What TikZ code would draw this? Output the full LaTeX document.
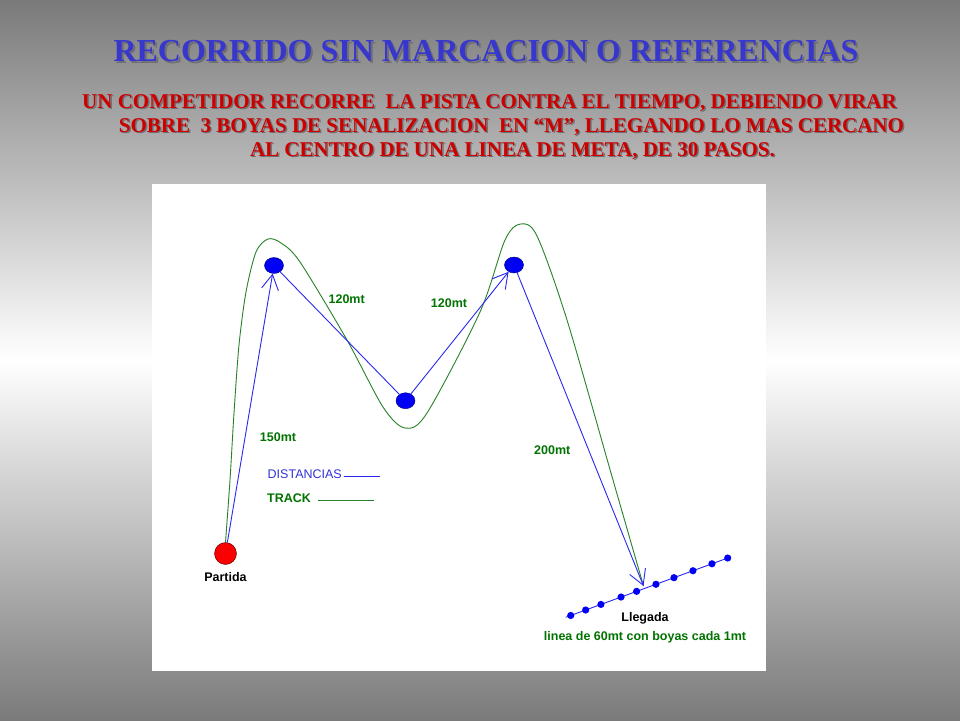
\documentclass[tikz,border=0pt]{standalone}
\usepackage{fontspec}
\setmainfont{Liberation Serif}
\setsansfont{Liberation Sans}
\usetikzlibrary{arrows.meta, shapes.geometric, calc}
\definecolor{fondoGris}{RGB}{122,122,122}
\definecolor{azulTitulo}{RGB}{55,55,205}
\definecolor{rojoTexto}{RGB}{205,0,0}
\definecolor{sombra}{RGB}{110,110,115}
\definecolor{azulLinea}{RGB}{40,40,240}
\definecolor{azulLeyenda}{RGB}{50,50,215}
\definecolor{boyaAzul}{RGB}{0,0,245}
\definecolor{boyaBorde}{RGB}{0,0,120}
\definecolor{boyaRoja}{RGB}{250,0,0}
\definecolor{verdeTrack}{RGB}{40,130,40}
\definecolor{verdeEtiq}{RGB}{0,115,0}
\tikzset{%
  >={Straight Barb[length=15pt,width=17pt]},
  % estilos de nodos y lineas
          boya/.style = {ellipse, draw=boyaBorde, fill=boyaAzul,
                         minimum width=19pt, minimum height=16pt,
                         inner sep=0pt},
   boyaPartida/.style = {circle, draw=black!70!red, fill=boyaRoja,
                         minimum size=22pt, inner sep=0pt},
     distancia/.style = {draw=azulLinea, line width=0.9pt},
         track/.style = {draw=verdeTrack, line width=0.9pt},
      etiqueta/.style = {font=\sffamily\bfseries\fontsize{12.5}{14}\selectfont,
                         text=verdeEtiq, inner sep=0pt},
        titulo/.style = {font=\bfseries\fontsize{32}{36}\selectfont,
                         inner sep=0pt, anchor=base},
     subtitulo/.style = {font=\bfseries\fontsize{21}{24}\selectfont,
                         inner sep=0pt, anchor=base},
}
\begin{document}
\begin{tikzpicture}[x=1pt, y=-1pt, node distance=24pt]
  \useasboundingbox (0,0) rectangle (960,720);
  \shade[top color=fondoGris, bottom color=fondoGris, middle color=white] (0,0) rectangle (960,720);
  \fill[white] (152,184) rectangle (766,671);

  % titulo y texto
  \node(tituloSombra)  [titulo, text=sombra]     at (488,63)   {RECORRIDO SIN MARCACION O REFERENCIAS};
  \node(titulo)        [titulo, text=azulTitulo] at (486,61)   {RECORRIDO SIN MARCACION O REFERENCIAS};
  \node(texto1Sombra)  [subtitulo, text=sombra]    at (491,109.5) {UN COMPETIDOR RECORRE\ \ LA PISTA CONTRA EL TIEMPO, DEBIENDO VIRAR};
  \node(texto1)        [subtitulo, text=rojoTexto] at (489.5,108) {UN COMPETIDOR RECORRE\ \ LA PISTA CONTRA EL TIEMPO, DEBIENDO VIRAR};
  \node(texto2Sombra)  [subtitulo, text=sombra]    at (513,133.5) {SOBRE\ \ 3 BOYAS DE SENALIZACION\ \ EN “M”, LLEGANDO LO MAS CERCANO};
  \node(texto2)        [subtitulo, text=rojoTexto] at (511.5,132) {SOBRE\ \ 3 BOYAS DE SENALIZACION\ \ EN “M”, LLEGANDO LO MAS CERCANO};
  \node(texto3Sombra)  [subtitulo, text=sombra]    at (514,157.5) {AL CENTRO DE UNA LINEA DE META, DE 30 PASOS.};
  \node(texto3)        [subtitulo, text=rojoTexto] at (512.5,156) {AL CENTRO DE UNA LINEA DE META, DE 30 PASOS.};

  % boyas
  \node(partida)  [boyaPartida] at (225.5,553.5) {};
  \node(boya1)    [boya]        at (274,265.5)   {};
  \node(boya2)    [boya]        at (405.5,400.7) {};
  \node(boya3)    [boya]        at (514,265)     {};
  \coordinate (lineaIni) at (565.7,617.3);
  \coordinate (lineaFin) at (728,557.9);
  \coordinate (meta)     at (643.5,586);

  % etiquetas
  \node(d150)       [etiqueta] at (278,436.7) {150mt};
  \node(d120a)      [etiqueta] at (346.7,299) {120mt};
  \node(d120b)      [etiqueta] at (449,303.3) {120mt};
  \node(d200)       [etiqueta] at (552.3,450) {200mt};
  \node(partidaTxt) [etiqueta, text=black, below of=partida, node distance=23.5pt] {Partida};
  \node(llegada)    [etiqueta, text=black] at (645,618) {Llegada};
  \node(lineaTxt)   [etiqueta, below of=llegada, node distance=19pt] {linea de 60mt con boyas cada 1mt};
  \node(leyDist)    [etiqueta, font=\sffamily\fontsize{12.5}{14}\selectfont, text=azulLeyenda, anchor=west] at (267.5,474.5) {DISTANCIAS};
  \node(leyTrack)   [etiqueta, anchor=west] at (267,498.6) {TRACK};
  \draw[distancia] ([shift={(2,2)}]leyDist.east) -- ++(36,0);
  \draw[track]     ([shift={(7,2)}]leyTrack.east) -- ++(56,0);

  % recorrido
  \draw[track] plot[smooth, tension=0.5] coordinates {(partida.north) (230,480) (234,413) (239,345)
      (246,292) (256,252) (268,239) (281,243) (300,262) (347,340) (383,407) (405,428) (427,413)
      (480,312) (505,240) (520.5,224) (537,236) (567,320) (613,480) (meta)};

  % distancias
  \draw[distancia, ->] (partida) -- (boya1);
  \draw[distancia]     (boya1) -- (boya2);
  \draw[distancia, ->] (boya2) -- (boya3);
  \draw[distancia, ->] (boya3) -- (meta);

  % linea de meta
  \draw[distancia] (lineaIni) -- (lineaFin);
  \foreach \t in {0.031, 0.123, 0.217, 0.341, 0.437, 0.556, 0.667, 0.784, 0.901, 0.998}
    \fill[boyaAzul] ($(lineaIni)!\t!(lineaFin)$) circle (3.6);
\end{tikzpicture}
\end{document}
